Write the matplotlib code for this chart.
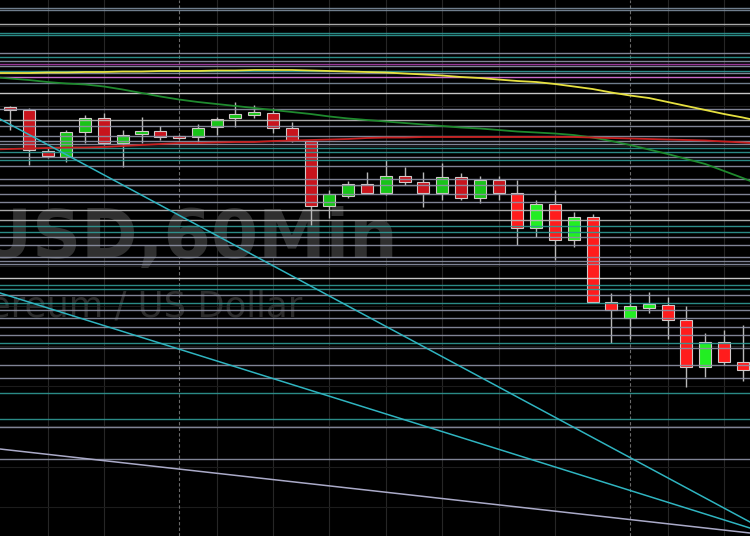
import matplotlib

matplotlib.use("Agg")
import matplotlib.pyplot as plt
import numpy as np

# ETH/USD hourly candles (open, high, low, close)
opens = [1873.25, 1872.5, 1862.25, 1860.75, 1867.0, 1870.5, 1864.25, 1866.5, 1867.25, 1866.0,
         1865.75, 1868.25, 1870.5, 1871.25, 1871.75, 1868.0, 1864.75, 1848.5, 1851.0, 1854.0,
         1851.75, 1856.0, 1854.5, 1851.75, 1855.75, 1850.5, 1855.0, 1851.75, 1843.0, 1849.0,
         1840.0, 1845.75, 1824.5, 1820.5, 1823.0, 1823.75, 1820.0, 1808.25, 1814.5, 1809.5]
highs = [1873.5, 1873.0, 1863.0, 1867.5, 1871.25, 1871.75, 1867.5, 1870.75, 1868.5, 1866.25,
         1869.0, 1870.75, 1874.5, 1873.75, 1873.0, 1869.5, 1864.75, 1852.5, 1854.75, 1857.0,
         1860.0, 1858.25, 1857.0, 1859.25, 1856.75, 1856.0, 1856.0, 1855.0, 1850.0, 1852.5,
         1847.0, 1846.5, 1826.75, 1826.75, 1827.0, 1825.75, 1823.5, 1816.75, 1817.5, 1818.75]
lows = [1867.5, 1858.75, 1860.5, 1859.5, 1864.25, 1863.75, 1858.25, 1864.25, 1865.0, 1865.25,
        1864.25, 1866.25, 1868.25, 1870.5, 1866.75, 1864.5, 1843.75, 1845.5, 1850.5, 1851.75,
        1851.25, 1853.75, 1848.25, 1850.0, 1850.0, 1849.25, 1850.0, 1838.75, 1840.75, 1835.0,
        1838.25, 1824.5, 1814.25, 1815.25, 1821.75, 1815.25, 1803.25, 1805.75, 1808.75, 1804.75]
closes = [1872.5, 1862.5, 1861.0, 1867.0, 1870.5, 1864.25, 1866.25, 1867.25, 1865.75, 1865.5,
          1868.0, 1870.25, 1871.5, 1872.0, 1868.0, 1865.0, 1848.5, 1851.5, 1854.0, 1851.75,
          1856.0, 1854.5, 1851.75, 1855.75, 1850.5, 1855.0, 1851.75, 1843.0, 1849.0, 1840.0,
          1845.75, 1824.5, 1822.5, 1823.5, 1824.0, 1820.0, 1808.25, 1814.5, 1809.5, 1807.5]

# moving averages, one value per bar from one bar before the first candle
# to one bar after the last (both partly off screen)
ma_yellow = [1881.75, 1881.75, 1881.75, 1881.88, 1881.88, 1882.0, 1882.0, 1882.12, 1882.12, 1882.25,
             1882.25, 1882.25, 1882.38, 1882.38, 1882.5, 1882.5, 1882.5, 1882.38, 1882.25, 1882.12,
             1882.0, 1881.88, 1881.62, 1881.38, 1881.12, 1880.75, 1880.5, 1880.12, 1879.75, 1879.5,
             1879.0, 1878.38, 1877.75, 1876.88, 1876.12, 1875.5, 1874.5, 1873.5, 1872.5, 1871.5,
             1870.62, 1869.6]
ma_green = [1880.75, 1880.38, 1880.0, 1879.5, 1879.12, 1878.88, 1878.38, 1877.62, 1876.75, 1875.88,
            1875.12, 1874.5, 1874.0, 1873.5, 1873.0, 1872.5, 1872.0, 1871.5, 1870.88, 1870.38,
            1870.0, 1869.62, 1869.25, 1868.88, 1868.5, 1868.12, 1867.88, 1867.5, 1867.12, 1866.88,
            1866.62, 1866.25, 1865.62, 1864.75, 1863.75, 1862.62, 1861.5, 1860.25, 1859.0, 1857.25,
            1855.5, 1853.6]
ma_red = [1862.62, 1862.75, 1862.88, 1863.0, 1863.12, 1863.12, 1863.25, 1863.5, 1863.75, 1864.0,
          1864.25, 1864.25, 1864.38, 1864.5, 1864.5, 1864.75, 1864.88, 1865.0, 1865.12, 1865.25,
          1865.5, 1865.62, 1865.62, 1865.75, 1865.75, 1865.75, 1865.75, 1865.75, 1865.75, 1865.75,
          1865.75, 1865.75, 1865.62, 1865.5, 1865.38, 1865.25, 1865.12, 1865.0, 1864.88, 1864.62,
          1864.38, 1864.1]

# horizontal support / resistance levels grouped by colour
levels_grayblue = [1898.0, 1897.5, 1879.25]
levels_lightgray = [1894.0, 1870.0, 1847.5, 1845.0]
levels_white = [1876.75, 1830.5]
levels_teal = [1891.75, 1891.25, 1885.75, 1882.25, 1863.0, 1862.0, 1860.0, 1843.5, 1842.0,
               1828.75, 1827.75, 1824.25, 1814.25, 1801.75, 1795.25]
levels_gray = [1886.75, 1884.75, 1883.5, 1881.75, 1872.75, 1868.5, 1866.0, 1864.75, 1864.0,
               1860.75, 1858.5, 1855.25, 1853.75, 1851.5, 1849.5, 1840.75, 1838.75, 1835.75,
               1834.75, 1834.0, 1826.25, 1822.5, 1820.5, 1818.25, 1816.25, 1813.0, 1808.75,
               1805.5, 1793.25, 1785.25]
levels_magenta = [1884.0]
levels_pink = [1880.75]

# trend lines: (bar, price) anchors at bar 0 and bar 39
trend_cyan_1 = [(0, 1868.9), (39, 1770.45)]
trend_cyan_2 = [(0, 1825.97), (39, 1768.55)]
trend_gray = [(0, 1787.47), (39, 1766.95)]

grid_bars = [2, 5, 11, 14, 17, 20, 23, 26, 29, 35, 38]
day_bars = [9, 33]
grid_prices = [1893.5, 1883.5, 1873.5, 1863.5, 1853.5, 1843.5, 1833.5, 1823.5, 1813.5,
               1803.5, 1793.5, 1783.25, 1773.25]

fig = plt.figure(figsize=(7.5, 5.36), dpi=100)
fig.patch.set_facecolor("black")
ax = fig.add_axes([0, 0, 1, 1])
ax.set_facecolor("black")
ax.set_xlim(-0.53, 39.38)
ax.set_ylim(1766.0, 1900.0)
ax.axis("off")

for g in grid_bars:
    ax.axvline(g, color="#262626", lw=0.8, zorder=0)
for g in grid_prices:
    ax.axhline(g, color="#1c1c1c", lw=0.8, zorder=0)
for d in day_bars:
    ax.axvline(d, color="#6a6a6a", lw=0.8, ls=(0, (3, 2)), zorder=0)

# watermark
ax.text(0.531, 0.5187, "ETHUSD,60Min", transform=ax.transAxes, ha="right", va="baseline",
        fontsize=49, fontweight="bold", color="#303030", family="DejaVu Sans", zorder=1)
ax.text(0.4027, 0.4086, "Ethereum / US Dollar", transform=ax.transAxes, ha="right",
        va="baseline", fontsize=25.5, color="#2c2c2c", family="DejaVu Sans", zorder=1)

# candles
x = np.arange(len(opens))
o = np.array(opens)
c = np.array(closes)
up = c >= o
bright = x >= 27
col = np.where(up, np.where(bright, "#22ee22", "#18c418"),
               np.where(bright, "#ff1c1c", "#c8141c"))
ax.vlines(x, lows, highs, color="#b8b8b8", lw=1.0, zorder=3)
bottom = np.minimum(o, c)
height = np.maximum(np.abs(c - o), 0.45)
ax.bar(x, height, bottom=bottom, width=0.64, color=col, edgecolor="#d0c8c8",
       linewidth=0.8, zorder=3)

# levels
styles = [
    (levels_gray, "#8e92a6"),
    (levels_teal, "#2f9a96"),
    (levels_grayblue, "#7c8c9c"),
    (levels_lightgray, "#bcbcbc"),
    (levels_white, "#dcdcdc"),
    (levels_magenta, "#a83ca8"),
    (levels_pink, "#e278e2"),
]
for lv, colr in styles:
    for p in lv:
        ax.axhline(p, color=colr, lw=1.0, alpha=0.9, zorder=4)

# moving averages
xm = np.arange(-1, len(opens) + 1)
ax.plot(xm, ma_yellow, color="#e6e040", lw=1.3, zorder=5)
ax.plot(xm, ma_green, color="#1f8a2e", lw=1.3, zorder=5)
ax.plot(xm, ma_red, color="#c82020", lw=1.3, zorder=5)

# trend lines
ax.axline(*trend_cyan_1, color="#2fb4c0", lw=1.1, zorder=5)
ax.axline(*trend_cyan_2, color="#2fb4c0", lw=1.1, zorder=5)
ax.axline(*trend_gray, color="#aaaac8", lw=1.1, zorder=5)

fig.savefig("out.png", dpi=100, facecolor="black")
